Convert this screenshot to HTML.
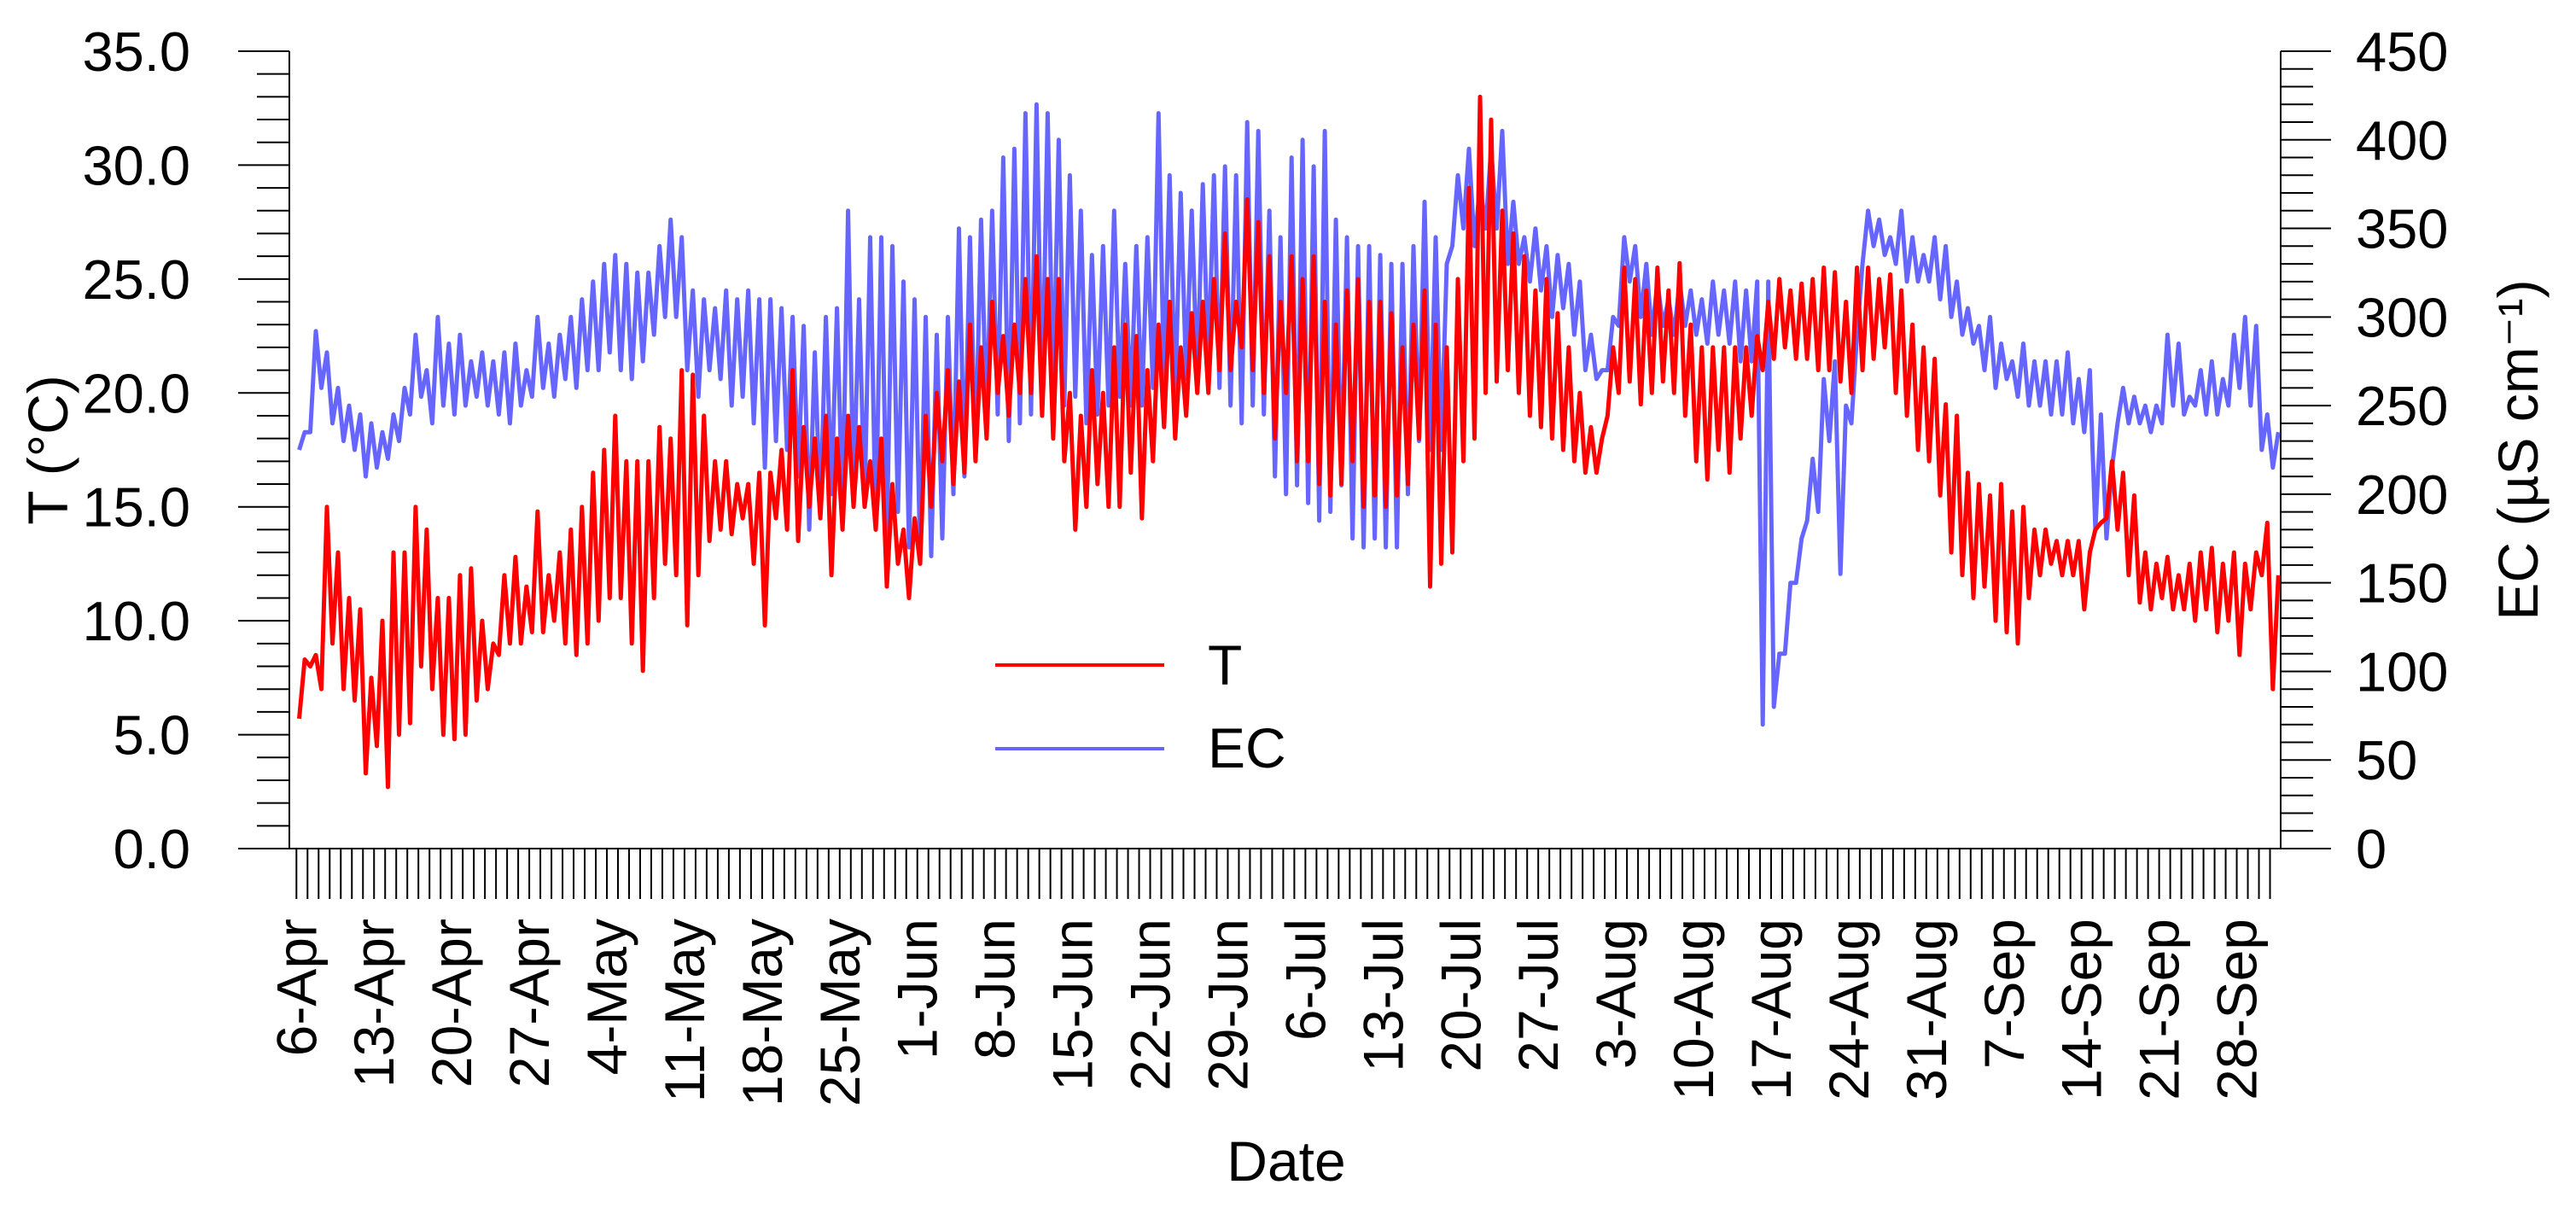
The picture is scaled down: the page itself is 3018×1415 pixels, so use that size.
<!DOCTYPE html>
<html><head><meta charset="utf-8"><style>
html,body{margin:0;padding:0;background:#fff;}
svg{display:block;font-family:"Liberation Sans",Arial,sans-serif;}
</style></head><body>
<svg id="chart" width="3018" height="1415" viewBox="0 0 3018 1415" xmlns="http://www.w3.org/2000/svg">
<rect width="3018" height="1415" fill="#fff"/>
<g id="axes"></g>
<g id="series"></g>
<text transform="translate(79,527) rotate(-90)" text-anchor="middle" font-size="66">T (°C)</text>
<text transform="translate(2973,527) rotate(-90)" text-anchor="middle" font-size="66">EC (µS cm⁻¹)</text>
<text x="1507" y="1383" text-anchor="middle" font-size="66">Date</text>
<g>
<line x1="1166" y1="779" x2="1364" y2="779" stroke="#ff0000" stroke-width="4"/>
<text x="1415" y="802" font-size="66">T</text>
<line x1="1166" y1="877" x2="1364" y2="877" stroke="#6666ff" stroke-width="4"/>
<text x="1415" y="899" font-size="66">EC</text>
</g>
</svg>
<script>
// Tick labels
const tTicks = ["0.0","5.0","10.0","15.0","20.0","25.0","30.0","35.0"];
const ecTicks = ["0","50","100","150","200","250","300","350","400","450"];
const dateLabels = ["6-Apr","13-Apr","20-Apr","27-Apr","4-May","11-May","18-May","25-May","1-Jun","8-Jun","15-Jun","22-Jun","29-Jun","6-Jul","13-Jul","20-Jul","27-Jul","3-Aug","10-Aug","17-Aug","24-Aug","31-Aug","7-Sep","14-Sep","21-Sep","28-Sep"];
// Daily T minima / maxima (6-Apr .. 1-Oct)
const tMin = [5.7,8,7,9,7,6.5,3.3,4.5,2.7,5,5.5,8,7,5,4.8,5,6.5,7,8.5,9,9,9.5,9.5,10,9,
8.5,9,10,11,11,9,7.8,11,12.5,12,9.8,12,13.5,14,13.8,14.5,12.5,9.8,14.5,14,13.5,15,14.5,12,14,15,15,14,11.5,12.5,11,
12.5,15,17,16,16.5,17,18,20,19,20,20,19,18,17,14,15,16,15,15,16.5,14.5,17,18.5,18,19,20,20,21,21,22,
21,20,18,20,17,17,16,15.5,16,17,15,15.5,15,15.5,16,18,11.5,12.5,13,17,18,20,20.5,21,20,19,18.5,18,17.5,17,16.5,
16.5,19,20,20.5,19.5,20,20.5,20,19,17,16.2,17.5,16.5,18,19,21,21.5,22,21.5,21.5,21,21,20.5,20,21,21.5,22,20,19,17.5,17,
15.5,13,12,11,11.5,10,9.5,9,11,12,12.5,12,12,10.5,14,14.5,14,12,10.8,10.5,11,10.5,10.5,10,10.5,9.5,10,8.5,10.5,12,
7];
const tMax = [8.3,8.5,15,13,11,10.5,7.5,10,13,13,15,14,11,11,12,12.3,10,9,12,12.8,11.5,14.8,12,13,14,
15,16.5,17.5,19,17,17,17,18.5,18,21,20.8,19,17,17,16,16,16.5,16.5,17.5,21,18.5,18,19,18,19,18.5,17,18,16,14,14.5,
19,20,21,20.5,23,22,24,22.5,23,25,26,25,25,20,19,21,20,22,23,22.5,21,23,24,22,23.5,24,25,27,24,28.5,
27.5,26,24,26,25,26,24,23,24.5,25,24,24,23.5,22,23,24.5,23,22,25,29,33,32,28,27,26,24.5,25,23.5,22,20,18.5,
18,22,25.5,25,24.5,25.5,24.5,25.7,23,22,22,22,22,22,22.5,24,25,24.5,24.8,25,25.5,25.3,24,25.5,25.5,25,25.2,24.5,23,22,21.5,
19.5,19,16.5,16,15.5,16,14.8,15,14,14,13.5,13.5,13.5,13,14.3,17,16.5,15.5,13,12.5,12.8,12,12.5,13,13.2,12.5,13,12.5,13,14.3,
12];
// Daily EC minima / maxima (µS cm-1)
const ecMin = [225,235,260,240,230,225,210,215,220,230,245,255,240,250,245,250,255,250,245,240,250,255,260,255,265,
260,270,270,280,270,265,275,290,300,300,270,255,270,265,250,255,240,215,230,225,210,180,190,200,190,200,195,180,175,190,170,
165,165,175,200,210,220,240,245,230,240,245,250,255,250,255,240,245,250,255,250,250,260,260,255,265,265,270,260,250,240,
250,245,210,200,205,195,185,190,205,175,170,175,170,170,200,230,225,225,340,350,340,350,350,330,330,320,315,300,305,290,270,
265,270,295,320,300,290,295,290,295,290,285,290,285,275,275,70,80,110,150,185,190,230,155,240,330,340,335,330,320,320,320,
310,300,290,285,270,260,265,255,250,250,245,245,240,235,180,175,240,240,240,235,240,250,245,250,245,245,250,260,250,225,
215];
const ecMax = [235,292,280,260,250,245,240,235,245,260,290,270,300,285,290,275,280,275,280,285,270,300,285,290,300,
310,320,330,335,330,325,325,340,355,345,315,310,305,315,310,315,310,310,305,300,295,280,300,305,360,310,345,345,340,320,310,
300,290,300,350,345,355,360,390,395,415,420,415,400,380,360,335,340,360,330,340,345,415,380,370,360,375,380,385,380,410,
405,360,345,390,400,385,405,355,345,340,340,335,330,330,340,365,345,330,380,395,375,395,405,365,345,350,340,335,330,320,290,
270,300,345,340,330,320,310,320,315,310,320,315,320,315,320,320,110,150,175,220,265,275,250,290,360,355,345,360,345,335,345,
340,320,305,295,300,285,275,285,275,275,275,280,265,270,245,215,260,255,250,250,290,285,255,270,275,265,290,300,295,245,
235];

const NS = "http://www.w3.org/2000/svg";
const X0 = 339, X1 = 2672, Y0 = 994, Y1 = 60;
const DAY0 = 347.3, DAYW = 12.99;
function xDay(d){ return DAY0 + d*DAYW; }
function yT(v){ return Y0 - v*(Y0-Y1)/35; }
function yEC(v){ return Y0 - v*(Y0-Y1)/450; }
function mk(tag, attrs, parent){
  const e = document.createElementNS(NS, tag);
  for (const k in attrs) e.setAttribute(k, attrs[k]);
  parent.appendChild(e);
  return e;
}
const axes = document.getElementById('axes');
const series = document.getElementById('series');

let a = mk('line',{x1:X0,y1:Y1,x2:X0,y2:Y0,stroke:'#000','stroke-width':2},axes);


a = mk('line',{x1:X1,y1:Y1,x2:X1,y2:Y0,stroke:'#000','stroke-width':2},axes);


a = mk('line',{x1:X0-60,y1:Y0,x2:X1+59,y2:Y0,stroke:'#000','stroke-width':2},axes);



for (let v=0; v<=35; v++){
  const y = yT(v), major = v%5===0;
  const t = mk('line',{x1:X0-(major?60:38),y1:y,x2:X0,y2:y,stroke:'#000','stroke-width':2},axes);
  
  
}
tTicks.forEach((lab,i)=>{
  const t = mk('text',{x:223,y:yT(i*5)+23,'text-anchor':'end','font-size':65},axes);
  t.textContent = lab;
  
  
});
for (let v=0; v<=450; v+=10){
  const y = yEC(v), major = v%50===0;
  const t = mk('line',{x1:X1,y1:y,x2:X1+(major?59:38),y2:y,stroke:'#000','stroke-width':2},axes);
  
  
}
ecTicks.forEach((lab,i)=>{
  const t = mk('text',{x:2760,y:yEC(i*50)+23,'text-anchor':'start','font-size':65},axes);
  t.textContent = lab;
  
  
});
for (let d=0; d<=178; d++){
  const x = xDay(d);
  const t = mk('line',{x1:x,y1:Y0,x2:x,y2:1053,stroke:'#000','stroke-width':2},axes);
  
  
}
dateLabels.forEach((lab,i)=>{
  const x = xDay(i*7)+23;
  const t = mk('text',{transform:`translate(${x},1076) rotate(-90)`,'text-anchor':'end','font-size':66},axes);
  t.textContent = lab;
  
  
});

function seriesPath(mins, maxs, yf){
  let p = '';
  for (let d=0; d<mins.length; d++){
    const xa = xDay(d+0.25), xb = xDay(d+0.75);
    p += (d===0?'M':'L') + xa.toFixed(1)+','+yf(mins[d]).toFixed(1)+'L'+xb.toFixed(1)+','+yf(maxs[d]).toFixed(1);
  }
  return p;
}
const ecLine = mk('path',{d:seriesPath(ecMin,ecMax,yEC),fill:'none',stroke:'#6666ff','stroke-width':5,'stroke-linejoin':'round'},series);


const tLine = mk('path',{d:seriesPath(tMin,tMax,yT),fill:'none',stroke:'#ff0000','stroke-width':5,'stroke-linejoin':'round'},series);


</script>
</body></html>
